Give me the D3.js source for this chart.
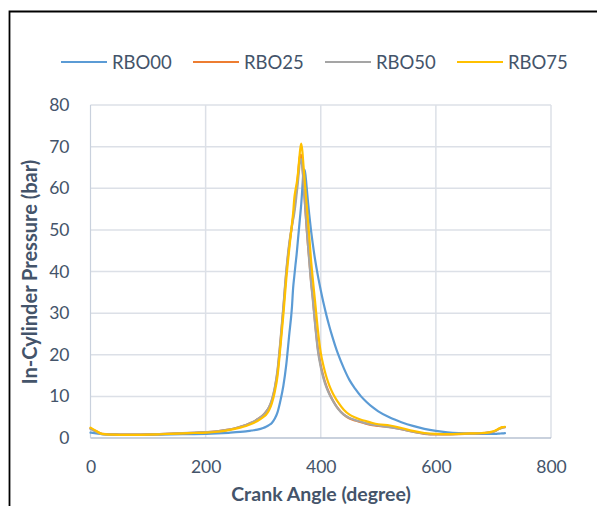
<!DOCTYPE html>
<html>
<head>
<meta charset="utf-8">
<script src="https://cdn.jsdelivr.net/npm/d3@7"></script>
<style>
html,body{margin:0;padding:0;background:#fff;}
svg{display:block;}
</style>
</head>
<body>
<svg id="chart" width="597" height="506"></svg>
<script>
const angles = [0,10,20,40,60,80,100,120,140,160,180,200,220,240,260,270,280,290,300,305,310,315,320,325,330,335,340,345,350,352,354,356,358,360,362,364,366,368,370,372,374,376,378,380,383,386,390,395,400,405,410,415,420,425,430,440,450,460,470,480,490,500,520,540,560,580,600,620,640,660,680,690,700,705,710,715,720];

const rbo00 = [1.3,1.1,0.9,0.8,0.75,0.75,0.75,0.8,0.85,0.9,0.95,1.0,1.1,1.25,1.45,1.6,1.8,2.0,2.4,2.7,3.1,3.6,4.6,6.2,9.0,12.5,17.5,24.5,31.5,36,38.8,41.5,44,47,50,53,56,60,64,64.5,62.5,59.5,56.5,53.7,50,46.8,43,39,35.5,32.3,29.4,26.8,24.4,22.2,20.2,16.8,13.9,11.8,10.0,8.6,7.4,6.4,4.9,3.8,2.9,2.2,1.7,1.35,1.15,1.05,1.0,1.0,1.0,1.0,1.05,1.1,1.15];

const rbo25 = [2.3,1.6,1.0,0.85,0.8,0.8,0.85,0.95,1.05,1.15,1.25,1.4,1.6,2.0,2.7,3.1,3.7,4.5,5.5,6.3,7.3,9.0,11.8,16,23,31,39.5,46,51,53,55,57.5,60,62.5,65.5,68,68,65.5,62,57.5,53.5,49.5,46,43,38,34,28,21.5,17.5,14.6,12.4,10.7,9.3,8.1,7.1,5.6,4.7,4.2,3.8,3.4,3.1,2.9,2.6,2.1,1.5,1.0,0.85,0.85,0.95,1.05,1.15,1.3,1.5,1.8,2.2,2.5,2.6];

const rbo50 = [2.2,1.5,0.95,0.85,0.8,0.8,0.85,0.95,1.05,1.15,1.3,1.4,1.6,2.0,2.7,3.1,3.7,4.5,5.5,6.3,7.4,9.2,12,16.5,23.5,31.5,40,46.5,51,52.5,54,56,58.5,61,64,66.5,67,65,61.5,57.5,53.5,49.5,46,42.5,37.5,33.5,27.5,21,17,14.2,12.1,10.5,9.2,8.0,7.0,5.6,4.8,4.3,3.9,3.5,3.2,3.0,2.6,2.1,1.5,1.05,0.9,0.9,1.0,1.05,1.15,1.3,1.5,1.8,2.2,2.5,2.6];

const rbo75 = [2.5,1.7,1.0,0.8,0.75,0.75,0.8,0.9,1.0,1.1,1.2,1.3,1.5,1.9,2.5,2.9,3.4,4.1,5.0,5.6,6.6,8.3,11,15,22,29.5,38,45,51.5,54,57.5,59.5,61,63,66,69,70.7,69,65.5,62,58.5,55.5,52,48.5,43,38.5,33,26,20.5,17.2,14.6,12.6,11,9.7,8.6,6.8,5.6,4.9,4.4,4.0,3.6,3.3,3.0,2.4,1.7,1.2,1.0,0.95,1.0,1.1,1.2,1.3,1.6,1.9,2.3,2.6,2.7];

const seriesNames = ["RBO00","RBO25","RBO50","RBO75"];
const seriesColors = ["#5B9BD5","#ED7D31","#A5A5A5","#FFC000"];
const xTicks = [0,200,400,600,800];
const yTicks = [0,10,20,30,40,50,60,70,80];
const xTitle = "Crank Angle (degree)";
const yTitle = "In-Cylinder Pressure (bar)";

const seriesValues = [rbo00, rbo25, rbo50, rbo75];

const svg = d3.select("#chart");
const font = "Lato, 'Open Sans', sans-serif";
const textColor = "#44546A";

// outer border (left and top visible)
svg.append("path")
  .attr("d", "M9.5,506 L9.5,11.5 L597,11.5")
  .attr("fill","none").attr("stroke","#000").attr("stroke-width",1.8);

const x = d3.scaleLinear().domain([0,800]).range([90.5,551]);
const y = d3.scaleLinear().domain([0,80]).range([438,105]);

// gridlines
const gGrid = svg.append("g");
gGrid.selectAll("line.h").data(yTicks.filter(d=>d>0)).enter().append("line")
  .attr("x1", x(0)).attr("x2", x(800))
  .attr("y1", d=>y(d)).attr("y2", d=>y(d))
  .attr("stroke","#DCE0E7").attr("stroke-width",1.5);
gGrid.selectAll("line.v").data(xTicks.filter(d=>d>0)).enter().append("line")
  .attr("y1", y(0)).attr("y2", y(80))
  .attr("x1", d=>x(d)).attr("x2", d=>x(d))
  .attr("stroke","#DCE0E7").attr("stroke-width",1.5);

// axes lines
svg.append("line").attr("x1",x(0)).attr("x2",x(800)).attr("y1",y(0)).attr("y2",y(0))
  .attr("stroke","#B7C2D2").attr("stroke-width",1.5);
svg.append("line").attr("x1",x(0)).attr("x2",x(0)).attr("y1",y(0)).attr("y2",y(80))
  .attr("stroke","#C9D1DD").attr("stroke-width",1.2);

// tick labels via axes
const xAxis = svg.append("g").attr("transform",`translate(0,${y(0)})`)
  .call(d3.axisBottom(x).tickValues(xTicks).tickSize(0).tickPadding(23).tickFormat(d3.format("d")));
const yAxis = svg.append("g").attr("transform",`translate(${x(0)},0)`)
  .call(d3.axisLeft(y).tickValues(yTicks).tickSize(0).tickPadding(21).tickFormat(d3.format("d")));
[xAxis,yAxis].forEach(a=>{
  a.select(".domain").remove();
  a.selectAll("text").attr("fill",textColor).style("font-family",font).style("font-size","17.5px");
});

// lines
const line = d3.line().x(d=>x(d[0])).y(d=>y(d[1])).curve(d3.curveMonotoneX);
seriesValues.forEach((vals,i)=>{
  const pts = angles.map((a,j)=>[a, vals[j]]);
  svg.append("path").datum(pts).attr("d", line)
    .attr("fill","none").attr("stroke",seriesColors[i]).attr("stroke-width",2.2)
    .attr("stroke-linejoin","round").attr("stroke-linecap","round");
});

// legend
const legX = [61,193,325,457];
const leg = svg.append("g");
seriesNames.forEach((n,i)=>{
  leg.append("line").attr("x1",legX[i]).attr("x2",legX[i]+46).attr("y1",62).attr("y2",62)
    .attr("stroke",seriesColors[i]).attr("stroke-width",2.2);
  leg.append("text").attr("x",legX[i]+51).attr("y",68.5).text(n)
    .attr("fill",textColor).style("font-family",font).style("font-size","18.5px");
});

// axis titles
svg.append("text").attr("x",321).attr("y",501).attr("text-anchor","middle")
  .text(xTitle).attr("fill",textColor).style("font-family",font).style("font-size","19.5px").style("font-weight","bold");
svg.append("text").attr("transform","translate(37,272) rotate(-90)").attr("text-anchor","middle")
  .text(yTitle).attr("fill",textColor).style("font-family",font).style("font-size","20px").style("font-weight","bold");
</script>
</body>
</html>
